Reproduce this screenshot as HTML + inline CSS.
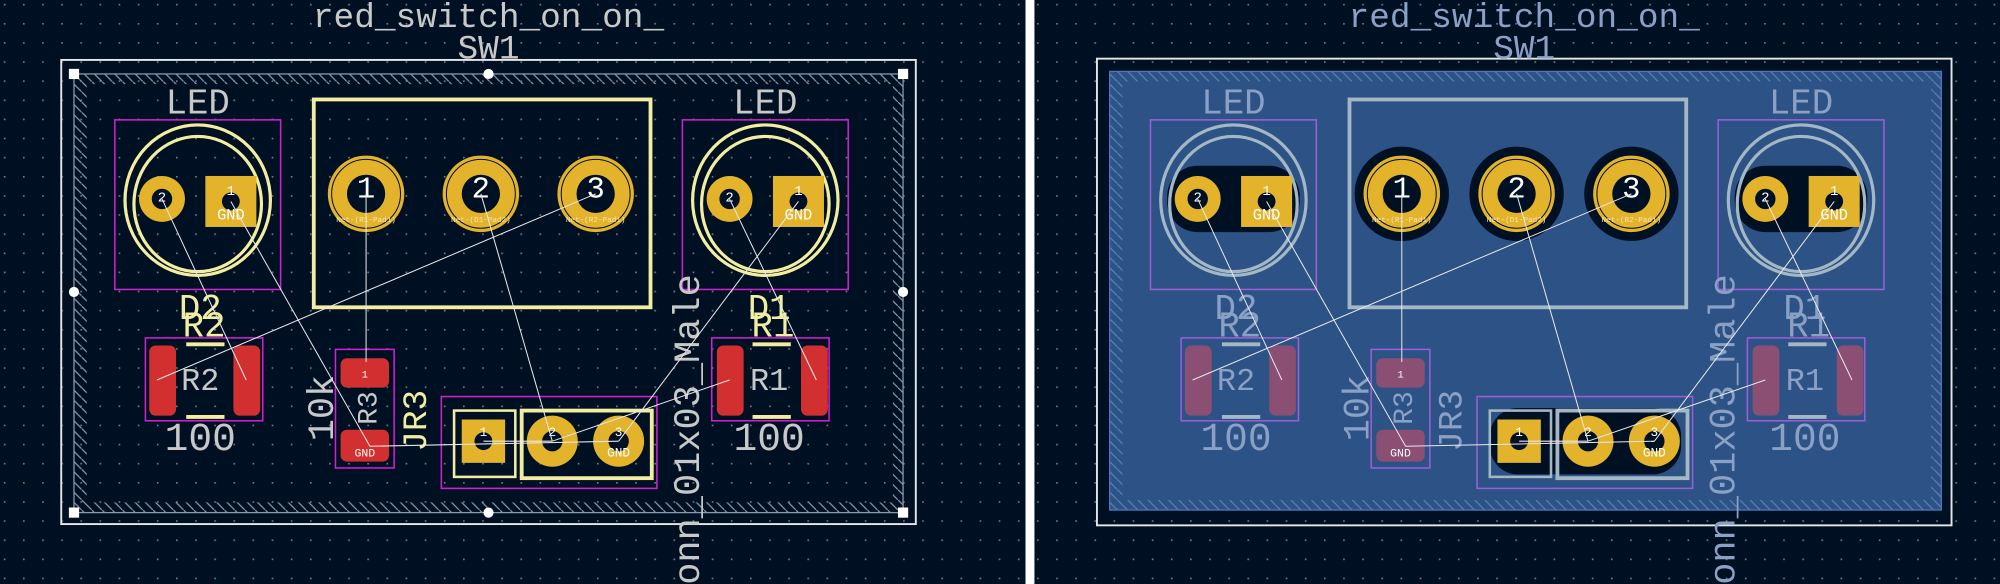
<!DOCTYPE html>
<html><head><meta charset="utf-8"><style>
html,body{margin:0;padding:0;background:#001023;}
svg{display:block}
text{font-family:"Liberation Mono",monospace}
</style></head><body>
<svg width="2000" height="584" viewBox="0 0 1568 458" preserveAspectRatio="none" xmlns="http://www.w3.org/2000/svg">
<defs>
<pattern id="dots" width="15" height="15" patternUnits="userSpaceOnUse" x="3" y="3"><rect width="1.3" height="1.3" fill="#6d7a88"/></pattern>
<pattern id="hatch" width="8" height="8" patternUnits="userSpaceOnUse"><path d="M0,0 L8,8" stroke="#8a98b0" stroke-width="1"/></pattern>
<pattern id="hatch2" width="8" height="8" patternUnits="userSpaceOnUse"><path d="M0,0 L8,8" stroke="#5a7fb8" stroke-width="1"/></pattern>
<g id="L">
 <rect x="246" y="78" width="264" height="163" fill="none" stroke="var(--silk)" stroke-width="3"/>
 <text x="383" y="21" font-size="27" fill="var(--txt)" text-anchor="middle">red_switch_on_on_</text>
 <text x="383" y="46" font-size="27" fill="var(--txt)" text-anchor="middle">SW1</text>
 <text x="155" y="89" font-size="28" fill="var(--txt)" text-anchor="middle">LED</text>
 <text x="600" y="89" font-size="28" fill="var(--txt)" text-anchor="middle">LED</text>
 <rect x="90" y="94" width="130" height="133" fill="none" stroke="var(--crt)" stroke-width="1.2"/>
 <rect x="535" y="94" width="130" height="133" fill="none" stroke="var(--crt)" stroke-width="1.2"/>
 <ellipse cx="155" cy="157" rx="57" ry="59" fill="none" stroke="var(--silk)" stroke-width="2.5"/>
 <ellipse cx="155" cy="160" rx="50" ry="53" fill="none" stroke="var(--silk)" stroke-width="2.5"/>
 <ellipse cx="600" cy="157" rx="57" ry="59" fill="none" stroke="var(--silk)" stroke-width="2.5"/>
 <ellipse cx="600" cy="160" rx="50" ry="53" fill="none" stroke="var(--silk)" stroke-width="2.5"/>
 <circle cx="127" cy="156" r="18" fill="#e3b32c"/><circle cx="127" cy="156" r="8" fill="#001023"/>
 <rect x="161" y="138" width="40" height="40" fill="#e3b32c"/><circle cx="181" cy="158" r="7" fill="#001023"/>
 <circle cx="572" cy="156" r="18" fill="#e3b32c"/><circle cx="572" cy="156" r="8" fill="#001023"/>
 <rect x="606" y="138" width="40" height="40" fill="#e3b32c"/><circle cx="626" cy="158" r="7" fill="#001023"/>
 <text x="127" y="158" font-size="11" fill="#fff" text-anchor="middle">2</text>
 <text x="181" y="153" font-size="11" fill="#fff" text-anchor="middle">1</text>
 <text x="181" y="172" font-size="12" fill="#fff" text-anchor="middle">GND</text>
 <text x="572" y="158" font-size="11" fill="#fff" text-anchor="middle">2</text>
 <text x="626" y="153" font-size="11" fill="#fff" text-anchor="middle">1</text>
 <text x="626" y="172" font-size="12" fill="#fff" text-anchor="middle">GND</text>
 <g fill="#e3b32c"><circle cx="287" cy="152" r="30"/><circle cx="377" cy="152" r="30"/><circle cx="467" cy="152" r="30"/></g>
 <g fill="none" stroke="#001023" stroke-width="0.8"><circle cx="287" cy="152" r="27"/><circle cx="377" cy="152" r="27"/><circle cx="467" cy="152" r="27"/></g>
 <g fill="#001023"><circle cx="287" cy="152" r="15"/><circle cx="377" cy="152" r="15"/><circle cx="467" cy="152" r="15"/></g>
 <g font-size="24" fill="#fff" text-anchor="middle"><text x="287" y="155">1</text><text x="377" y="155">2</text><text x="467" y="155">3</text></g>
 <g font-size="6" fill="#f6e6b0" text-anchor="middle"><text x="287" y="174">Net-(R1-Pad1)</text><text x="377" y="174">Net-(D1-Pad2)</text><text x="467" y="174">Net-(R2-Pad1)</text></g>
 <g font-size="28" fill="var(--ref)" text-anchor="middle"><text x="157" y="250">D2</text><text x="160" y="264">R2</text><text x="603" y="250">D1</text><text x="606" y="264">R1</text></g>
 <rect x="114" y="265" width="92" height="65" fill="none" stroke="var(--crt)" stroke-width="1.2"/>
 <rect x="117" y="271" width="21" height="55" rx="5" fill="var(--red)"/><rect x="183" y="271" width="21" height="55" rx="5" fill="var(--red)"/>
 <line x1="146" y1="270" x2="176" y2="270" stroke="var(--silk)" stroke-width="3"/><line x1="146" y1="327" x2="176" y2="327" stroke="var(--silk)" stroke-width="3"/>
 <text x="157" y="306" font-size="25" fill="var(--txt)" text-anchor="middle">R2</text>
 <text x="157" y="353" font-size="31" fill="var(--txt)" text-anchor="middle">100</text>
 <rect x="558" y="265" width="92" height="65" fill="none" stroke="var(--crt)" stroke-width="1.2"/>
 <rect x="562" y="271" width="21" height="55" rx="5" fill="var(--red)"/><rect x="628" y="271" width="21" height="55" rx="5" fill="var(--red)"/>
 <line x1="590" y1="270" x2="620" y2="270" stroke="var(--silk)" stroke-width="3"/><line x1="590" y1="327" x2="620" y2="327" stroke="var(--silk)" stroke-width="3"/>
 <text x="603" y="306" font-size="25" fill="var(--txt)" text-anchor="middle">R1</text>
 <text x="603" y="353" font-size="31" fill="var(--txt)" text-anchor="middle">100</text>
 <rect x="263" y="274" width="46" height="93" fill="none" stroke="var(--crt)" stroke-width="1.2"/>
 <rect x="267" y="281" width="38" height="23" rx="5" fill="var(--red)"/><rect x="267" y="337" width="38" height="25" rx="5" fill="var(--red)"/>
 <text x="286" y="296" font-size="8" fill="#fff" text-anchor="middle">1</text>
 <text x="286" y="358" font-size="9" fill="#fff" text-anchor="middle">GND</text>
 <text transform="translate(295,320) rotate(-90)" font-size="22" fill="var(--txt)" text-anchor="middle">R3</text>
 <text transform="translate(261,320) rotate(-90)" font-size="29" fill="var(--txt)" text-anchor="middle">10k</text>
 <text transform="translate(334,330) rotate(-90)" font-size="27" fill="var(--ref)" text-anchor="middle">JR3</text>
 <rect x="346" y="311" width="169" height="72" fill="none" stroke="var(--crt)" stroke-width="1.2"/>
 <rect x="356" y="322" width="48" height="52" fill="none" stroke="var(--silk)" stroke-width="2"/>
 <rect x="409" y="322" width="102" height="53" fill="none" stroke="var(--silk)" stroke-width="3"/>
 <rect x="362" y="329" width="34" height="34" fill="#e3b32c"/><circle cx="379" cy="346" r="7" fill="#001023"/>
 <circle cx="433" cy="346" r="20" fill="#e3b32c"/><circle cx="433" cy="346" r="8" fill="#001023"/>
 <circle cx="485" cy="346" r="20" fill="#e3b32c"/><circle cx="485" cy="346" r="8" fill="#001023"/>
 <g font-size="10" fill="#fff" text-anchor="middle"><text x="379" y="342">1</text><text x="433" y="342">2</text><text x="485" y="342">3</text><text x="485" y="358">GND</text></g>
 <text transform="translate(548,476) rotate(-90)" font-size="29" fill="var(--txt)">Conn_01x03_Male</text>
 <g stroke="#e8e8e8" stroke-width="0.8" fill="none">
  <line x1="287" y1="152" x2="287" y2="284"/>
  <line x1="377" y1="152" x2="433" y2="346"/>
  <line x1="467" y1="152" x2="123" y2="298"/>
  <line x1="127" y1="156" x2="193" y2="298"/>
  <line x1="181" y1="158" x2="290" y2="350"/>
  <line x1="572" y1="156" x2="640" y2="298"/>
  <line x1="626" y1="158" x2="485" y2="346"/>
  <line x1="572" y1="298" x2="433" y2="346"/>
  <line x1="290" y1="350" x2="485" y2="346"/>
  <line x1="379" y1="346" x2="433" y2="346"/>
 </g>
</g>
</defs>
<rect width="1568" height="458" fill="#001023"/>
<rect width="1568" height="458" fill="url(#dots)"/>
<rect x="48" y="47" width="670" height="364" fill="none" stroke="#e6e6e6" stroke-width="1.5"/>
<path d="M58,58 H708 V402 H58 Z M68,66 H700 V394 H68 Z" fill="url(#hatch)" fill-rule="evenodd"/>
<rect x="58" y="58" width="650" height="344" fill="none" stroke="#8a98b0" stroke-width="1"/>
<g fill="#fff"><rect x="54" y="54" width="8" height="8"/><rect x="704" y="54" width="8" height="8"/><rect x="54" y="398" width="8" height="8"/><rect x="704" y="398" width="8" height="8"/>
<circle cx="383" cy="58" r="4"/><circle cx="383" cy="402" r="4"/><circle cx="58" cy="229" r="4"/><circle cx="708" cy="229" r="4"/></g>
<use href="#L" style="--silk:#f2eda1;--txt:#c8c8c8;--crt:#d21fd2;--red:#d23030;--ref:#f2eda1"/>
<rect x="804" y="0" width="7" height="458" fill="#ffffff"/>
<g transform="translate(812,0)">
<rect x="48" y="46" width="670" height="366" fill="none" stroke="#e6e6e6" stroke-width="1.5"/>
<rect x="58" y="56" width="652" height="344" fill="#2d5286" stroke="#4a78c0" stroke-width="1"/>
<path d="M58,56 H710 V400 H58 Z M68,64 H702 V392 H68 Z" fill="url(#hatch2)" fill-rule="evenodd"/>
<g fill="#001023">
 <circle cx="287" cy="152" r="37"/><circle cx="377" cy="152" r="37"/><circle cx="467" cy="152" r="37"/>
 <rect x="103" y="130" width="104" height="52" rx="24"/><rect x="548" y="130" width="104" height="52" rx="24"/>
 <rect x="356" y="320" width="150" height="52" rx="22"/>
</g>
</g>
<use href="#L" transform="translate(812,0)" style="--silk:#a3b8c4;--txt:#8aa0c4;--crt:#9b5fd6;--red:#8a4f73;--ref:#8aa0c4"/>
</svg>
</body></html>
